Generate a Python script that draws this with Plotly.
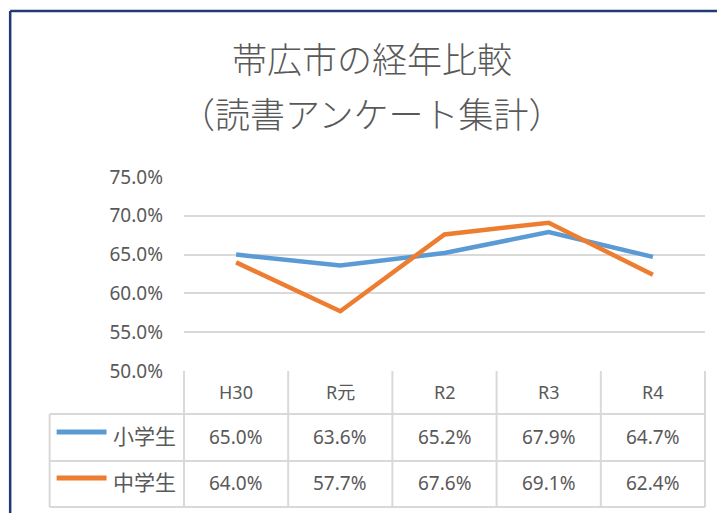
import plotly.graph_objects as go

categories = ["H30", "R元", "R2", "R3", "R4"]
series_names = ["小学生", "中学生"]
elementary = [0.650, 0.636, 0.652, 0.679, 0.647]
junior = [0.640, 0.577, 0.676, 0.691, 0.624]
tick_vals = [0.50, 0.55, 0.60, 0.65, 0.70, 0.75]
colors = ["#5B9BD5", "#ED7D31"]
title_lines = ["帯広市の経年比較", "（読書アンケート集計）"]

W, H = 725, 513
OFF = 8  # page body offset
L, R, T, B = 183.5, 705, 177, 371  # plot area in screen pixels
FONT = "Noto Sans, Noto Sans CJK JP, sans-serif"
TXT = "#595959"
GRID = "#D9D9D9"


def px(xp):
    return (xp - L) / (R - L)


def py(yp):
    return (B - yp) / (B - T)


fig = go.Figure()
for name, vals, c in zip(series_names, [elementary, junior], colors):
    fig.add_trace(go.Scatter(
        x=list(range(len(categories))), y=vals, name=name, mode="lines",
        line=dict(color=c, width=4.5), showlegend=False, hoverinfo="skip"))

shapes = []
for yp in [414, 461, 507]:
    shapes.append(dict(type="line", xref="paper", yref="paper",
                       x0=px(49), x1=px(R), y0=py(yp), y1=py(yp),
                       line=dict(color=GRID, width=2)))
n = len(categories)
for i in range(n + 1):
    shapes.append(dict(type="line", xref="paper", yref="paper",
                       x0=i / n, x1=i / n, y0=py(B), y1=py(507),
                       line=dict(color=GRID, width=2)))
shapes.append(dict(type="line", xref="paper", yref="paper",
                   x0=px(49), x1=px(49), y0=py(414), y1=py(507),
                   line=dict(color=GRID, width=2)))
for yp, c in zip([432, 478], colors):
    shapes.append(dict(type="line", xref="paper", yref="paper",
                       x0=px(56), x1=px(106), y0=py(yp), y1=py(yp),
                       line=dict(color=c, width=5)))
shapes.append(dict(type="line", xref="paper", yref="paper",
                   x0=px(9.5), x1=px(760), y0=py(11), y1=py(11),
                   line=dict(color="#1F3B73", width=2.5)))
shapes.append(dict(type="line", xref="paper", yref="paper",
                   x0=px(9.5), x1=px(9.5), y0=py(11), y1=py(560),
                   line=dict(color="#1F3B73", width=2.5)))

annotations = []
for i, cat in enumerate(categories):
    annotations.append(dict(x=i, y=py(392), xref="x", yref="paper", text=cat,
                            showarrow=False, xanchor="center", yanchor="middle",
                            font=dict(size=18, color=TXT, family=FONT)))
    for vals, yp in zip([elementary, junior], [437, 483]):
        annotations.append(dict(x=i, y=py(yp), xref="x", yref="paper",
                                text=f"{vals[i]*100:.1f}%", showarrow=False,
                                xanchor="center", yanchor="middle",
                                font=dict(size=19, color=TXT, family=FONT)))
for name, yp in zip(series_names, [436, 482]):
    annotations.append(dict(x=px(110), y=py(yp), xref="paper", yref="paper",
                            text=name, showarrow=False, xanchor="left", yanchor="middle",
                            font=dict(size=21, color=TXT, family=FONT)))
for line, yp in zip(title_lines, [58, 112]):
    annotations.append(dict(x=px(372), y=py(yp), xref="paper", yref="paper",
                            text=line, showarrow=False, xanchor="center", yanchor="middle",
                            font=dict(size=35, color=TXT, family="Noto Sans CJK JP", weight=300)))

fig.update_layout(
    width=W, height=H,
    margin=dict(l=L - OFF, r=W - (R - OFF), t=T - OFF, b=H - (B - OFF), pad=0),
    paper_bgcolor="white", plot_bgcolor="white",
    xaxis=dict(range=[-0.5, n - 0.5], showgrid=False, zeroline=False,
               showticklabels=False, showline=False, fixedrange=True),
    yaxis=dict(range=[0.50, 0.75], tickvals=tick_vals, tickformat=".1%",
               showgrid=True, gridcolor=GRID, gridwidth=1.5, zeroline=False,
               showline=False, ticks="", ticklabelstandoff=20,
               tickfont=dict(size=19, color=TXT, family=FONT), fixedrange=True),
    shapes=shapes, annotations=annotations, showlegend=False,
)
fig.write_html("out.html", config={"displayModeBar": False})
